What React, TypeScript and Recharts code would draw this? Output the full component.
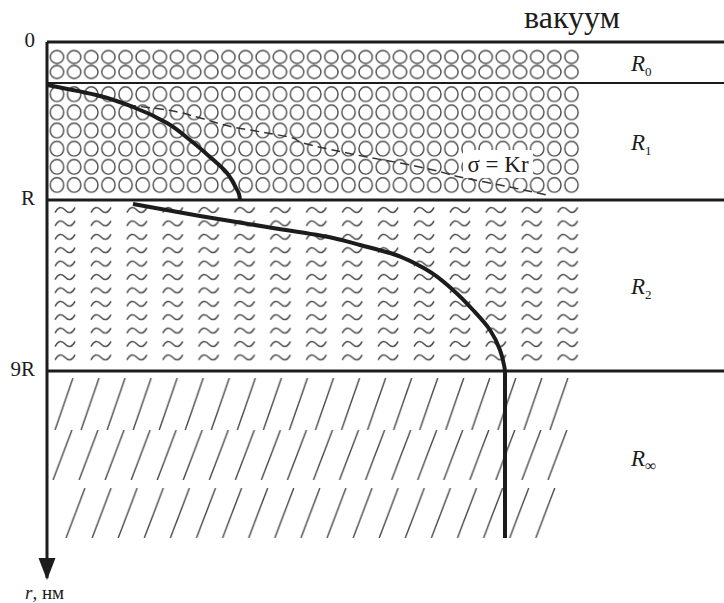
import React from 'react';
import {
  ComposedChart, Line, XAxis, YAxis, ReferenceLine, ReferenceArea, Label,
} from 'recharts';

// schematic units: x = stress (σ), y = depth r below the surface, both in drawing units
const X_SPAN = 677;
const Y_SPAN = 536;

const DEPTH_TICKS = [0, 158, 329];
const DEPTH_LABELS = ['0', 'R', '9R'];
const R0_BOUNDARY = 41;

const LAYER_TOPS = [0, 41, 158, 329];
const LAYER_BOTTOMS = [41, 158, 329, 502];
const LAYER_SUBS = ['0', '1', '2', '∞'];

// stress profile inside the R1 shell
const CURVE_R1 = [
  { x: 0, y: 43 }, { x: 53, y: 54 }, { x: 86, y: 65 }, { x: 120, y: 81 },
  { x: 143, y: 98 }, { x: 163, y: 115 }, { x: 180, y: 131 }, { x: 188, y: 144 },
  { x: 192, y: 152 }, { x: 193, y: 158 },
];

// stress profile in R2, continuing straight down into R∞
const CURVE_R2 = [
  { x: 86, y: 162 }, { x: 153, y: 174 }, { x: 220, y: 185 }, { x: 286, y: 196 },
  { x: 313, y: 203 }, { x: 346, y: 212 }, { x: 380, y: 228 }, { x: 406, y: 248 },
  { x: 426, y: 268 }, { x: 443, y: 288 }, { x: 453, y: 308 }, { x: 457, y: 323 },
  { x: 458, y: 330 }, { x: 458, y: 496 },
];

// linear law σ = Kr (dashed)
const LINEAR_LAW = [
  { x: 80, y: 63 }, { x: 120, y: 68 }, { x: 153, y: 76 }, { x: 186, y: 85 },
  { x: 220, y: 91 }, { x: 246, y: 96 }, { x: 253, y: 100 }, { x: 286, y: 108 },
  { x: 320, y: 115 }, { x: 353, y: 121 }, { x: 386, y: 128 }, { x: 413, y: 135 },
  { x: 453, y: 143 }, { x: 486, y: 150 }, { x: 500, y: 153 },
];

const SERIF = '"Liberation Serif", "Times New Roman", Times, serif';
const INK = '#1c1c1c';
const HATCH = '#4a4a4a';
const txt = { fontFamily: SERIF };

const DepthTick = (props: any) => {
  const { x, y, payload } = props;
  const i = DEPTH_TICKS.indexOf(payload.value);
  return (
    <text x={x} y={y + 5} textAnchor="end" style={txt} fontSize={21} fill={INK}>
      {DEPTH_LABELS[i]}
    </text>
  );
};

const AxisArrow = (props: any) => {
  const { x, y, width, height } = props.viewBox;
  const ax = x + width;
  const tip = y + height + 2;
  return (
    <g>
      <polygon points={`${ax - 8.5},${tip - 22} ${ax + 8.5},${tip - 22} ${ax},${tip}`} fill={INK} />
      <text x={ax - 22} y={tip + 19} style={txt} fontSize={19} fill={INK}>
        <tspan fontStyle="italic">r</tspan>, нм
      </text>
    </g>
  );
};

const VacuumLabel = (props: any) => {
  const { x, y } = props.viewBox;
  return (
    <text x={x + 525} y={y - 14} textAnchor="middle" style={txt} fontSize={32} fill={INK}>
      вакуум
    </text>
  );
};

const layerLabel = (sub: string) => (props: any) => {
  const { x, y, width, height } = props.viewBox;
  return (
    <text x={x + width / 2 - 12} y={y + height / 2 + 8} style={txt} fontSize={23} fill={INK}>
      <tspan fontStyle="italic">R</tspan>
      <tspan fontSize={sub === '∞' ? 16 : 13} dy={5}>{sub}</tspan>
    </text>
  );
};

const LawLabel = (props: any) => {
  const { x, y, width, height } = props.viewBox;
  return (
    <text x={x + width / 2} y={y + height / 2 + 8} textAnchor="middle" style={txt} fontSize={23} fill={INK}>
      σ = Kr
    </text>
  );
};

function Textures() {
  return (
    <svg width={0} height={0} style={{ position: 'absolute' }}>
      <defs>
        <pattern id="tex-r0" patternUnits="userSpaceOnUse" x={48.4} y={49.5} width={17.15} height={15}>
          <ellipse cx={8.575} cy={7.5} rx={6.7} ry={6.5} fill="none" stroke={HATCH} strokeWidth={1.4} />
        </pattern>
        <pattern id="tex-r1" patternUnits="userSpaceOnUse" x={48.4} y={85.2} width={17.15} height={18.15}>
          <ellipse cx={8.575} cy={9.07} rx={6.7} ry={7.3} fill="none" stroke={HATCH} strokeWidth={1.4} />
        </pattern>
        <pattern id="tex-r2" patternUnits="userSpaceOnUse" x={47.05} y={203.3} width={35.9} height={13.4}>
          <path d="M8,9.3 Q12.5,0.8 18,6.7 T28,4.1" fill="none" stroke={HATCH} strokeWidth={1.5} />
        </pattern>
        <pattern id="tex-inf1" patternUnits="userSpaceOnUse" x={50} y={378} width={26.05} height={52}>
          <line x1={5} y1={52} x2={23} y2={0} stroke={HATCH} strokeWidth={1.4} />
        </pattern>
        <pattern id="tex-inf2" patternUnits="userSpaceOnUse" x={48} y={430} width={26.05} height={50}>
          <line x1={5} y1={50} x2={24} y2={0} stroke={HATCH} strokeWidth={1.4} />
        </pattern>
        <pattern id="tex-inf3" patternUnits="userSpaceOnUse" x={61} y={488} width={26.1} height={50}>
          <line x1={5} y1={50} x2={24} y2={0} stroke={HATCH} strokeWidth={1.4} />
        </pattern>
      </defs>
    </svg>
  );
}

export default function App() {
  return (
    <div style={{ position: 'absolute', left: 0, top: 0, width: 724, height: 603, background: '#fff' }}>
      <Textures />
      <ComposedChart width={724} height={603} margin={{ top: 42, right: 0, bottom: 25, left: 0 }}>
        <XAxis type="number" dataKey="x" domain={[0, X_SPAN]} hide allowDataOverflow />
        <YAxis
          type="number"
          dataKey="y"
          domain={[0, Y_SPAN]}
          reversed
          width={47}
          ticks={DEPTH_TICKS}
          tick={<DepthTick />}
          tickLine={false}
          tickSize={0}
          tickMargin={12}
          axisLine={{ stroke: INK, strokeWidth: 3 }}
          allowDataOverflow
        >
          <Label content={<AxisArrow />} />
        </YAxis>

        <ReferenceArea x1={1.4} x2={533} y1={7.5} y2={37.5} fill="url(#tex-r0)" fillOpacity={1} stroke="none" />
        <ReferenceArea x1={1.4} x2={533} y1={43.2} y2={152.1} fill="url(#tex-r1)" fillOpacity={1} stroke="none" />
        <ReferenceArea x1={0.05} x2={538.5} y1={161.3} y2={322.1} fill="url(#tex-r2)" fillOpacity={1} stroke="none" />
        <ReferenceArea x1={3} x2={524} y1={336} y2={388} fill="url(#tex-inf1)" fillOpacity={1} stroke="none" />
        <ReferenceArea x1={1} x2={522} y1={388} y2={438} fill="url(#tex-inf2)" fillOpacity={1} stroke="none" />
        <ReferenceArea x1={14} x2={509} y1={446} y2={496} fill="url(#tex-inf3)" fillOpacity={1} stroke="none" />

        <ReferenceArea x1={416} x2={486} y1={108} y2={136} fill="#fff" fillOpacity={1} stroke="none" label={<LawLabel />} />

        {LAYER_SUBS.map((sub, i) => (
          <ReferenceArea
            key={sub}
            x1={518}
            x2={674}
            y1={LAYER_TOPS[i]}
            y2={LAYER_BOTTOMS[i]}
            fill="none"
            stroke="none"
            label={layerLabel(sub)}
          />
        ))}

        <ReferenceLine y={0} stroke={INK} strokeWidth={3} label={<VacuumLabel />} />
        <ReferenceLine y={R0_BOUNDARY} stroke={INK} strokeWidth={2} />
        <ReferenceLine y={DEPTH_TICKS[1]} stroke={INK} strokeWidth={3} />
        <ReferenceLine y={DEPTH_TICKS[2]} stroke={INK} strokeWidth={3} />

        <Line data={LINEAR_LAW} dataKey="y" type="monotoneY" stroke="#333" strokeWidth={1.5}
          strokeDasharray="9 5" dot={false} isAnimationActive={false} />
        <Line data={CURVE_R1} dataKey="y" type="monotoneY" stroke={INK} strokeWidth={4}
          dot={false} isAnimationActive={false} />
        <Line data={CURVE_R2} dataKey="y" type="monotoneY" stroke={INK} strokeWidth={4}
          dot={false} isAnimationActive={false} />
      </ComposedChart>
    </div>
  );
}
